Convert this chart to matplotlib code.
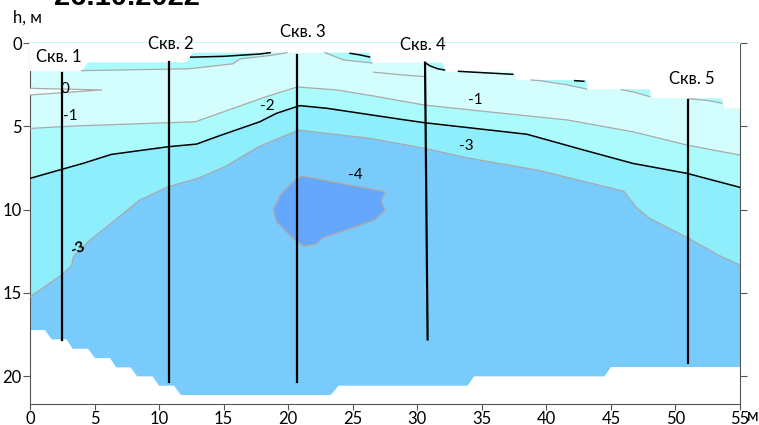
import numpy as np
import matplotlib.pyplot as plt

plt.rcParams['font.family'] = ['Lato', 'DejaVu Sans']

# ground surface and lower boundary of the section (x, m / depth, m)
surf_x = [0, 4.0, 4.5, 12.1, 12.6, 26.3, 26.5, 31.9, 32.3, 37.4, 37.7, 43.1, 43.3, 48.0, 48.3, 53.6, 53.8, 55]
surf_h = [1.68, 1.68, 1.16, 1.16, 0.58, 0.58, 1.18, 1.18, 1.72, 1.72, 2.22, 2.22, 2.78, 2.78, 3.32, 3.32, 3.92, 3.92]
base_x = [0, 1.16, 1.68, 2.84, 3.3, 4.5, 5.03, 6.2, 6.67, 7.8, 8.3, 9.5, 10.0, 11.16, 11.68, 23.3, 23.9, 33.9, 34.4, 44.5, 45.0, 55]
base_h = [17.24, 17.24, 17.8, 17.8, 18.36, 18.36, 18.92, 18.92, 19.48, 19.48, 20.02, 20.02, 20.58, 20.58, 21.14, 21.14, 20.58, 20.58, 20.02, 20.02, 19.46, 19.46]

# isotherms
iso1_x = [0, 3.5, 12.8, 15.4, 18.3, 20.7, 23.8, 26.9, 30.5, 34.5, 41.6, 46.7, 50.9, 55]
iso1_h = [5.13, 4.98, 4.73, 4.02, 3.22, 2.64, 2.82, 3.22, 3.72, 4.05, 4.62, 5.33, 6.13, 6.73]
iso2_x = [0, 2.45, 4.1, 6.3, 10.7, 12.9, 14.6, 17.8, 19.1, 20.9, 23.0, 28.7, 30.6, 38.5, 42.9, 46.7, 50.9, 55]
iso2_h = [8.13, 7.59, 7.23, 6.69, 6.23, 6.07, 5.59, 4.73, 4.22, 3.76, 3.92, 4.58, 4.79, 5.48, 6.43, 7.23, 7.83, 8.67]
iso3_x = [0, 2.45, 3.23, 3.36, 4.5, 6.6, 8.5, 10.7, 13.0, 15.1, 17.7, 20.8, 26.3, 30.6, 34.1, 39.3, 46.0, 47.0, 48.0, 50.9, 53.3, 55]
iso3_h = [15.24, 13.93, 13.37, 12.83, 11.93, 10.63, 9.43, 8.63, 8.13, 7.43, 6.23, 5.23, 5.72, 6.33, 6.93, 7.63, 8.9, 9.9, 10.53, 11.68, 12.73, 13.33]
iso4_x = [21.05, 27.5, 27.2, 27.5, 26.7, 22.6, 22.2, 21.2, 20.5, 19.1, 18.85, 19.4, 20.5]
iso4_h = [7.99, 8.93, 9.53, 10.03, 10.63, 11.73, 12.07, 12.19, 11.83, 10.73, 10.03, 9.13, 8.23]
iso0_x = [0, 5.55, 0]
iso0_h = [2.72, 2.82, 3.12]

# cold crust near the surface (gray edges)
crust = [
    ([4.0, 12.3, 15.7, 16.3, 18.6, 19.9], [1.66, 1.55, 1.25, 0.95, 0.75, 0.58]),
    ([22.85, 24.3, 26.3, 26.5], [0.58, 1.02, 1.18, 1.2]),
    ([38.8, 39.5, 41.5, 43.1], [2.22, 2.26, 2.5, 2.76]),
    ([45.8, 46.8, 48.0], [2.8, 2.95, 3.22]),
    ([51.1, 52.5, 53.6], [3.35, 3.45, 3.62]),
]
crust_tail_x = [26.6, 28.9, 30.6]
crust_tail_h = [1.75, 1.92, 2.02]
# black -2 pieces at the surface
blk = [
    ([12.45, 15.0, 17.8, 18.6], [0.85, 0.8, 0.66, 0.58]),
    ([24.8, 25.6, 26.3], [0.62, 0.72, 0.84]),
    ([30.6, 31.0, 31.6, 32.1], [1.18, 1.38, 1.55, 1.62]),
    ([33.2, 35.5, 37.4], [1.7, 1.8, 1.88]),
    ([42.2, 42.9], [2.26, 2.3]),
]

# wells
well_names = ['Скв. 1', 'Скв. 2', 'Скв. 3', 'Скв. 4', 'Скв. 5']
well_x_top = [2.45, 10.77, 20.7, 30.6, 51.0]
well_x_bot = [2.45, 10.77, 20.7, 30.8, 51.0]
well_top = [1.82, 1.12, 0.72, 1.18, 3.42]
well_bot = [17.84, 20.34, 20.38, 17.8, 19.2]
name_x = [2.27, 10.9, 21.1, 30.4, 51.26]
name_h = [0.86, 0.08, -0.68, 0.12, 2.16]

c_a = '#d4fefe'
c_b = '#abfbfd'
c_c = '#8eeefc'
c_d = '#79cbfc'
c_e = '#64a7fc'
gray = '#aaaaaa'


def poly_under_surface(x, h):
    # polygon between the top of the plot and a line
    return np.r_[x, x[-1], x[0]], np.r_[h, -1, -1]


fig = plt.figure(figsize=(7.59, 4.25), dpi=100)
ax = fig.add_axes([0.0395, 0.0494, 0.9355, 0.8494])

gx = np.r_[surf_x, base_x[::-1]]
gh = np.r_[surf_h, base_h[::-1]]
ax.fill(gx, gh, color=c_d, lw=0, zorder=1)
for lx, lh, col in [(iso3_x, iso3_h, c_c), (iso2_x, iso2_h, c_b), (iso1_x, iso1_h, c_a)]:
    px, ph = poly_under_surface(lx, lh)
    ax.fill(px, ph, color=col, lw=0, zorder=2)
for cx, ch in crust:
    px, ph = poly_under_surface(cx, ch)
    ax.fill(px, ph, color=c_b, lw=0, zorder=3)
px, ph = poly_under_surface(blk[2][0], blk[2][1])
ax.fill(px, ph, color=c_b, lw=0, zorder=3)
ax.fill(iso0_x, iso0_h, color='#f0ffff', lw=0, zorder=3)
ax.fill(iso4_x, iso4_h, color=c_e, lw=0, zorder=3)

# white above the ground surface
ax.fill(np.r_[surf_x, 55, 0], np.r_[surf_h, -1, -1], color='white', lw=0, zorder=4)

ax.plot(iso1_x, iso1_h, color=gray, lw=0.9, zorder=5)
ax.plot(iso3_x, iso3_h, color=gray, lw=0.9, zorder=5)
ax.plot(np.r_[iso4_x, iso4_x[0]], np.r_[iso4_h, iso4_h[0]], color='#b0a8a8', lw=0.9, zorder=5)
ax.plot(iso0_x, iso0_h, color=gray, lw=0.9, zorder=5)
for cx, ch in crust:
    ax.plot(cx, ch, color=gray, lw=0.9, zorder=5)
ax.plot(crust_tail_x, crust_tail_h, color=gray, lw=0.9, zorder=5)
ax.plot(iso2_x, iso2_h, color='black', lw=1.1, zorder=6)
for bx, bh in blk:
    ax.plot(bx, bh, color='black', lw=1.1, zorder=6)

for i in range(len(well_names)):
    ax.plot([well_x_top[i], well_x_bot[i]], [well_top[i], well_bot[i]], color='black', lw=1.6, zorder=7)
    ax.text(name_x[i], name_h[i], well_names[i], ha='center', va='center', fontsize=12, zorder=8)

# isotherm labels
ax.text(2.71, 2.78, '0', ha='center', va='center', fontsize=11, zorder=8)
ax.text(3.1, 4.38, '-1', ha='center', va='center', fontsize=11, zorder=8)
ax.text(34.5, 3.42, '-1', ha='center', va='center', fontsize=11, zorder=8)
ax.text(18.4, 3.79, '-2', ha='center', va='center', fontsize=11, zorder=8)
ax.text(33.8, 6.19, '-3', ha='center', va='center', fontsize=11, zorder=8)
ax.text(25.2, 7.93, '-4', ha='center', va='center', fontsize=11, zorder=8)
ax.text(3.72, 12.37, '-3', ha='center', va='center', fontsize=11, fontweight='bold',
        rotation=20, zorder=8)

ax.set_xlim(0, 55)
ax.set_ylim(21.68, 0)
ax.set_xticks(range(0, 56, 5))
ax.set_yticks(range(0, 21, 5))
ax.tick_params(axis='y', direction='out', length=5, labelsize=12, pad=1, right=True, labelright=False,
               color='#555555')
ax.tick_params(axis='x', direction='out', length=4, labelsize=12, pad=1, color='#555555')
for s in ['left', 'bottom', 'right']:
    ax.spines[s].set_color('#555555')
ax.spines['top'].set_color('#c8f4fa')
ax.spines['top'].set_linewidth(1.5)

fig.text(13 / 759, 1 - 18 / 425, 'h, м', ha='left', va='center', fontsize=12)
fig.text(753 / 759, 1 - 416 / 425, 'м', ha='center', va='center', fontsize=12)
fig.text(127 / 759, 1 - 5 / 425, '26.10.2022', ha='center', va='baseline', fontsize=21,
         fontweight='bold', family=['Liberation Sans', 'DejaVu Sans'])

fig.savefig('out.png', dpi=100)
